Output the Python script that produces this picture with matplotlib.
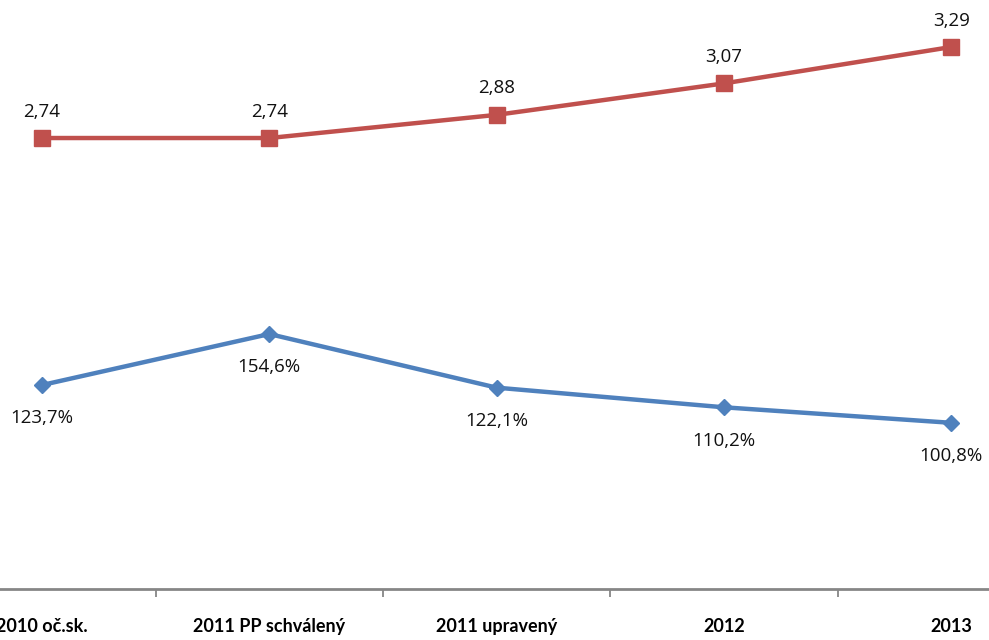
import matplotlib
matplotlib.use("Agg")
import matplotlib.pyplot as plt
import numpy as np

# data
categories = ["2010 oč.sk.", "2011 PP schválený", "2011 upravený", "2012", "2013"]
red_values = [2.74, 2.74, 2.88, 3.07, 3.29]
blue_values = [123.7, 154.6, 122.1, 110.2, 100.8]

RED = "#C0504D"
BLUE = "#4F81BD"

plt.rcParams["font.family"] = ["Lato", "DejaVu Sans"]

fig = plt.figure(figsize=(9.89, 6.4), dpi=100)
ax = fig.add_axes([0, 51 / 640, 1, 589 / 640])
ax2 = ax.twinx()

x = np.arange(len(categories))

# blue series (percent), own scale
ax2.plot(x, blue_values, color=BLUE, lw=3.2, marker="D", ms=8.5,
         markeredgecolor=BLUE, zorder=3)
for xi, v in zip(x, blue_values):
    ax2.annotate(f"{v:.1f}%".replace(".", ","), (xi, v), xytext=(0, -24),
                 textcoords="offset points", ha="center", va="center",
                 fontsize=13.5, family="Open Sans", color="#111111")

# red series
ax.plot(x, red_values, color=RED, lw=3.2, marker="s", ms=11,
        markeredgecolor=RED, zorder=3)
for xi, v in zip(x, red_values):
    ax.annotate(f"{v:.2f}".replace(".", ","), (xi, v), xytext=(0, 19),
                textcoords="offset points", ha="center", va="center",
                fontsize=13.5, family="Open Sans", color="#111111")

ax.set_ylim(0.015, 3.574)
ax2.set_ylim(0.1, 357)

for a in (ax, ax2):
    for s in ("top", "left", "right"):
        a.spines[s].set_visible(False)
    a.set_yticks([])
ax2.spines["bottom"].set_visible(False)
ax.spines["bottom"].set_color("#868686")
ax.spines["bottom"].set_linewidth(2)

# tick marks between categories, labels centred under points
ax.set_xticks(np.arange(-0.5, len(categories)), minor=False)
ax.set_xticklabels([])
ax.tick_params(axis="x", length=6, width=1.3, color="#868686")
ax.set_xticks(x, minor=True)
ax.set_xticklabels(categories, minor=True, fontsize=13, fontweight="bold")
ax.tick_params(axis="x", which="minor", length=0, pad=21)

# set limits last, set_xticks would widen them
ax.set_xlim(-0.185, 4.166)

fig.savefig("out.png", dpi=100)
